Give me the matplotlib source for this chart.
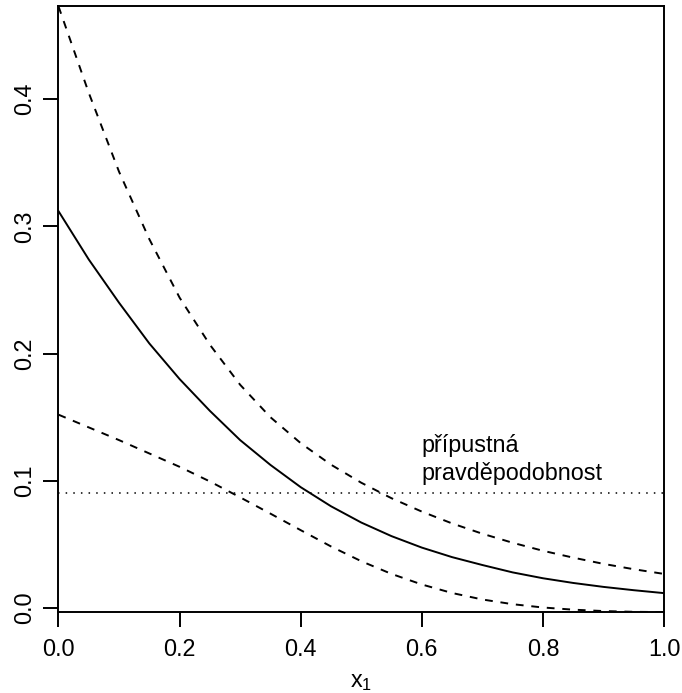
import numpy as np
import matplotlib
matplotlib.use("Agg")
import matplotlib.pyplot as plt

# values
x1 = [0.00, 0.05, 0.10, 0.15, 0.20, 0.25, 0.30, 0.35, 0.40, 0.45, 0.50,
      0.55, 0.60, 0.65, 0.70, 0.75, 0.80, 0.85, 0.90, 0.95, 1.00]
prob = [0.312, 0.274, 0.240, 0.208, 0.180, 0.155, 0.132, 0.1125, 0.095, 0.080, 0.0672,
        0.0565, 0.0475, 0.040, 0.0338, 0.028, 0.0234, 0.0197, 0.0166, 0.014, 0.0117]
upper = [0.473, 0.405, 0.343, 0.290, 0.244, 0.207, 0.1755, 0.150, 0.1296, 0.1127, 0.0985,
         0.0863, 0.0758, 0.0665, 0.0584, 0.0513, 0.045, 0.0396, 0.0347, 0.0305, 0.0268]
lower = [0.152, 0.142, 0.132, 0.1215, 0.111, 0.0995, 0.087, 0.0742, 0.0612, 0.0484, 0.0368,
         0.0268, 0.0185, 0.0118, 0.0067, 0.003, 0.0004, -0.0013, -0.0024, -0.003, -0.0032]
threshold = 0.0906
label_lines = ["přípustná", "pravděpodobnost"]
label_x = 0.6
label_y = [0.1226, 0.1006]

xticks = [0.0, 0.2, 0.4, 0.6, 0.8, 1.0]
yticks = [0.0, 0.1, 0.2, 0.3, 0.4]

plt.rcParams['font.family'] = ['Liberation Sans', 'DejaVu Sans']
plt.rcParams['mathtext.fontset'] = 'custom'
plt.rcParams['mathtext.rm'] = 'Liberation Sans'
plt.rcParams['mathtext.it'] = 'Liberation Sans'
plt.rcParams['mathtext.default'] = 'regular'

FS = 16.8
LW = 1.4


def plot_probability():
    fig = plt.figure(figsize=(6.82, 6.93), dpi=100)
    ax = fig.add_axes([58.5 / 682, 1 - 612 / 693, (664 - 58.5) / 682, (612 - 6) / 693])

    ax.plot(x1, prob, color='black', lw=LW, solid_joinstyle='round')
    ax.plot(x1, upper, color='black', lw=LW, linestyle=(0, (4, 4)))
    ax.plot(x1, lower, color='black', lw=LW, linestyle=(0, (4, 4)))
    ax.axhline(threshold, color='black', lw=1.1, linestyle=(0, (1, 4)))

    for txt, ty in zip(label_lines, label_y):
        ax.text(label_x, ty, txt, ha='left', va='baseline', fontsize=FS)

    ax.set_xlim(0, 1)
    ax.set_ylim(-0.00314, 0.4733)
    ax.set_xticks(xticks)
    ax.set_xticklabels([f"{v:.1f}" for v in xticks])
    ax.set_yticks(yticks)
    ax.set_yticklabels([f"{v:.1f}" for v in yticks], rotation=90, va='center')
    ax.tick_params(axis='both', direction='out', length=10.5, width=LW, labelsize=FS)
    ax.tick_params(axis='x', pad=8.5)
    ax.tick_params(axis='y', pad=5.4)
    for sp in ax.spines.values():
        sp.set_linewidth(LW)

    ax.set_xlabel(r'$x_1$', fontsize=FS, labelpad=6)

    fig.savefig('out.png', dpi=100)


if __name__ == "__main__":
    plot_probability()
